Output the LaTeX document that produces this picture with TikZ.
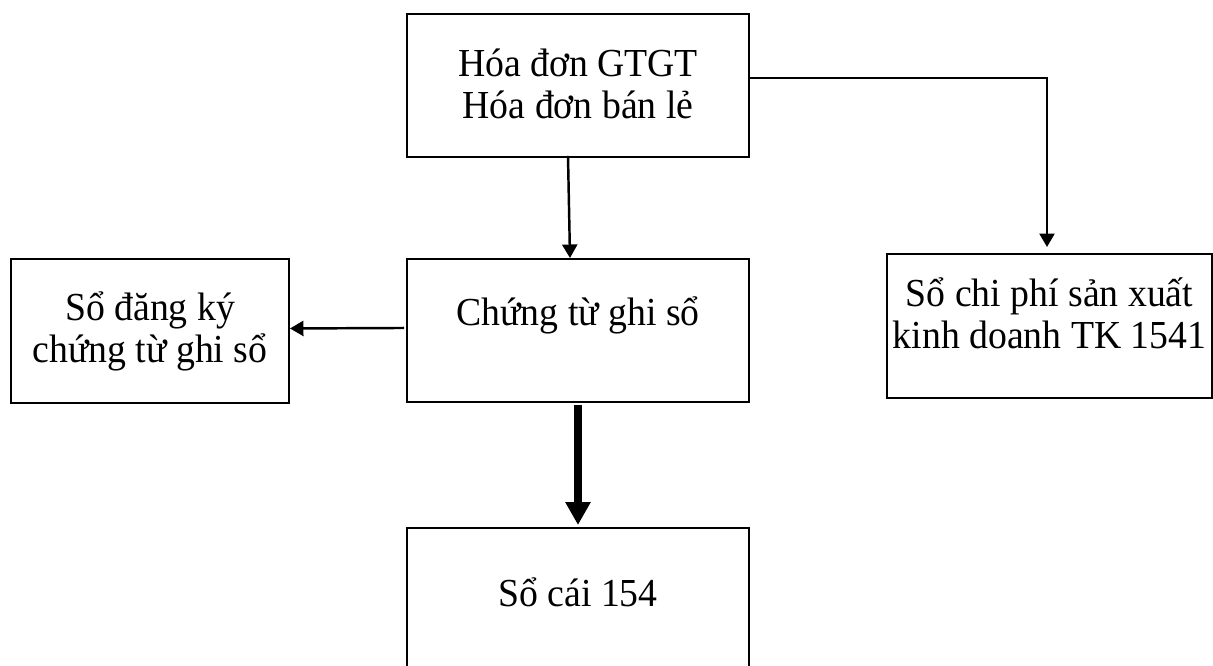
\documentclass[tikz,border=0pt]{standalone}
\usepackage{fontspec}
\setmainfont[FakeStretch=0.95]{Liberation Serif}
\usepackage{tikz}
\usetikzlibrary{arrows.meta}
\usetikzlibrary{positioning}

\begin{document}
\begin{tikzpicture}[
    box/.style={draw, line width=1.1pt, inner sep=0pt, anchor=north,
        align=flush center, font=\fontsize{22.6}{23.9}\selectfont},
    thin/.style={line width=1.4pt, -{Triangle[width=0.3cm,length=0.27cm]}},
    thick/.style={line width=4pt, -{Triangle[width=0.48cm,length=0.46cm]}}
    ]
    \useasboundingbox (0,0) rectangle (24.26,-13.3);
    % boxes
    \node[box, text width=6.84cm, text height=1.26cm, text depth=1.6cm] (hd) at (11.56,-0.26)
        {Hóa đơn GTGT\\Hóa đơn bán lẻ};
    \node[box, text width=6.84cm, text height=1.34cm, text depth=1.52cm] (ct) at (11.56,-5.16)
        {Chứng từ ghi sổ};
    \node[box, text width=5.56cm, text height=1.24cm, text depth=1.64cm] (dk) at (3.0,-5.16)
        {Sổ đăng ký\\chứng từ ghi sổ};
    \node[box, text width=6.5cm, text height=1.06cm, text depth=1.82cm] (cp) at (20.99,-5.06)
        {Sổ chi phí sản xuất\\kinh doanh TK 1541};
    \node[box, text width=6.84cm, text height=1.58cm, text depth=1.4cm] (sc) at (11.56,-10.54)
        {Sổ cái 154};
    % arrows
    \draw[thin] ([xshift=-0.2cm,yshift=0.04cm]hd.south) -- ([xshift=-0.16cm]ct.north);
    \draw[thin] ([yshift=0.15cm]hd.east) -| ([xshift=-0.05cm,yshift=0.12cm]cp.north);
    \draw[thin] ([xshift=-0.04cm,yshift=0.05cm]ct.west) -- ([yshift=0.05cm]dk.east);
    \draw[thick] ([yshift=-0.04cm]ct.south) -- ([yshift=0.04cm]sc.north);
\end{tikzpicture}
\end{document}
